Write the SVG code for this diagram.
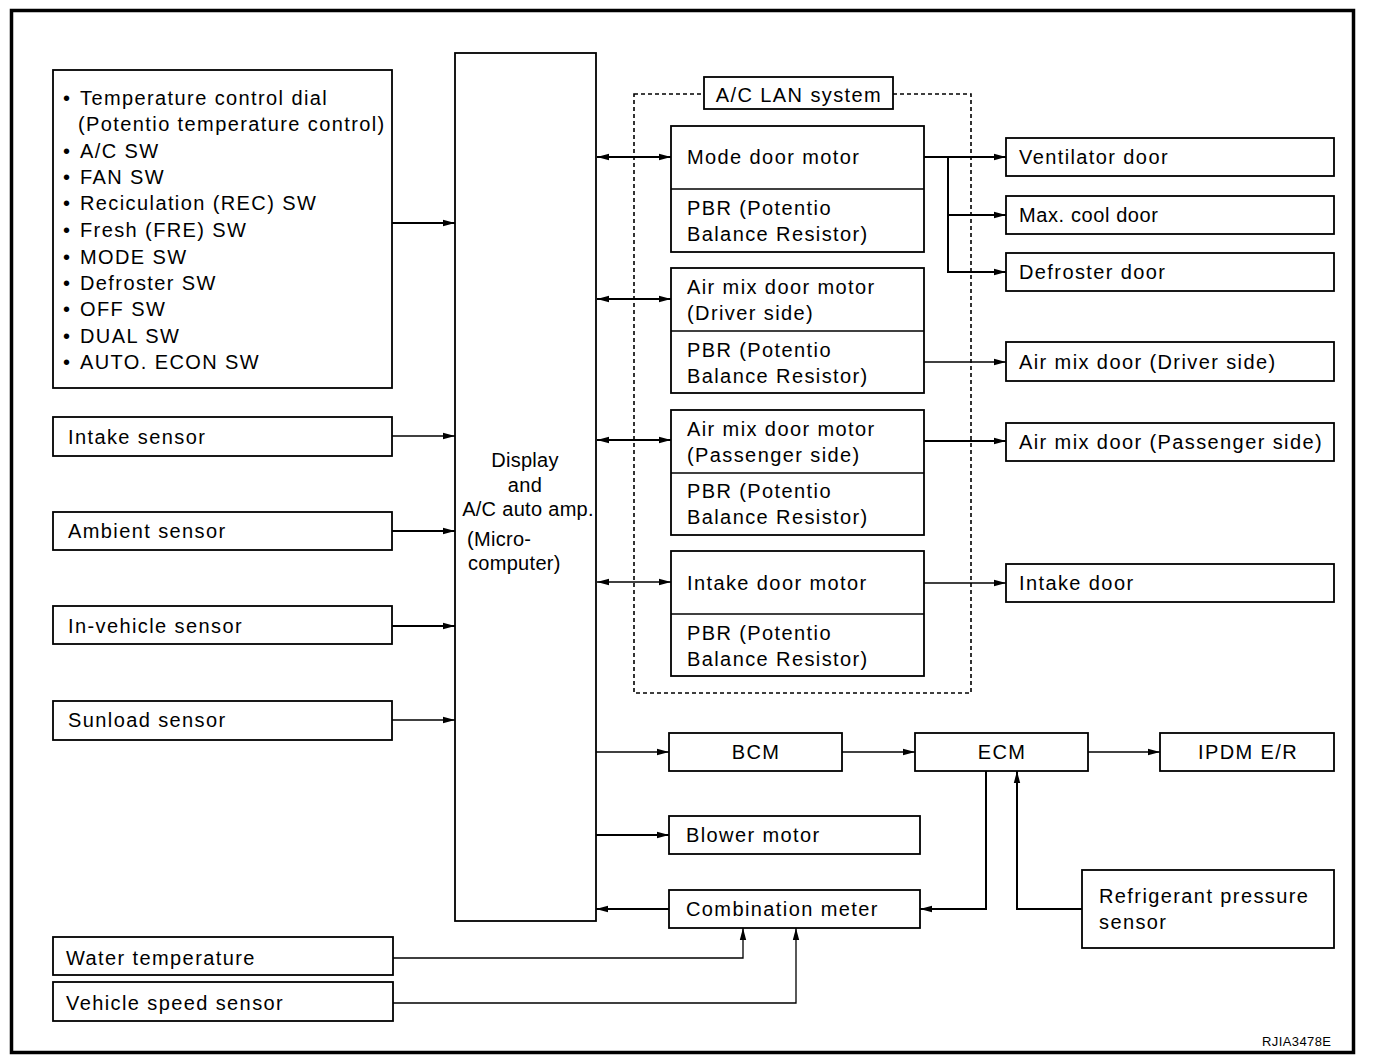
<svg xmlns="http://www.w3.org/2000/svg" width="1392" height="1062" viewBox="0 0 1392 1062">
<style>
text{font-family:"Liberation Sans",Arial,sans-serif;font-size:20px;fill:#000;letter-spacing:1.4px}
.amp{letter-spacing:0.3px}
.box{fill:#fff;stroke:#000;stroke-width:1.8}
.div{stroke:#000;stroke-width:1.3}
.ln{fill:none;stroke:#000;stroke-width:1.3}
.lnb{fill:none;stroke:#000;stroke-width:2}
.mid{text-anchor:middle}
</style>
<defs>
<marker id="ah" viewBox="0 0 12 8" refX="12" refY="4" markerWidth="12" markerHeight="8" markerUnits="userSpaceOnUse" orient="auto-start-reverse">
<path d="M0,0.8 L12,4 L0,7.2 z" fill="#000"/>
</marker>
</defs>
<rect x="0" y="0" width="1392" height="1062" fill="#fff"/>
<rect x="11.5" y="10.5" width="1342" height="1042" fill="none" stroke="#000" stroke-width="3.5"/>

<g id="switches">
<rect class="box" x="53" y="70" width="339" height="318"/>
<text x="63" y="105">•</text><text x="80" y="105">Temperature control dial</text>
<text x="78" y="131">(Potentio temperature control)</text>
<text x="63" y="158">•</text><text x="80" y="158">A/C SW</text>
<text x="63" y="184">•</text><text x="80" y="184">FAN SW</text>
<text x="63" y="210">•</text><text x="80" y="210">Reciculation (REC) SW</text>
<text x="63" y="237">•</text><text x="80" y="237">Fresh (FRE) SW</text>
<text x="63" y="264">•</text><text x="80" y="264">MODE SW</text>
<text x="63" y="290">•</text><text x="80" y="290">Defroster SW</text>
<text x="63" y="316">•</text><text x="80" y="316">OFF SW</text>
<text x="63" y="343">•</text><text x="80" y="343">DUAL SW</text>
<text x="63" y="369">•</text><text x="80" y="369">AUTO. ECON SW</text>
</g>

<g id="intake-sensor"><rect class="box" x="53" y="417" width="339" height="39"/><text x="68" y="444">Intake sensor</text></g>
<g id="ambient-sensor"><rect class="box" x="53" y="512" width="339" height="38"/><text x="68" y="538">Ambient sensor</text></g>
<g id="in-vehicle-sensor"><rect class="box" x="53" y="606" width="339" height="38"/><text x="68" y="633">In-vehicle sensor</text></g>
<g id="sunload-sensor"><rect class="box" x="53" y="701" width="339" height="39"/><text x="68" y="727">Sunload sensor</text></g>
<g id="water-temperature"><rect class="box" x="53" y="937" width="340" height="38"/><text x="66" y="965">Water temperature</text></g>
<g id="vehicle-speed-sensor"><rect class="box" x="53" y="982" width="340" height="39"/><text x="66" y="1010">Vehicle speed sensor</text></g>

<g id="amp">
<rect class="box" x="455" y="53" width="141" height="868"/>
<text class="mid amp" x="525" y="467">Display</text>
<text class="mid amp" x="525" y="492">and</text>
<text class="mid amp" x="528" y="516">A/C auto amp.</text>
<text class="amp" x="467" y="546">(Micro-</text>
<text class="amp" x="468" y="570">computer)</text>
</g>

<g id="ac-lan-system">
<rect x="634" y="94" width="337" height="599" fill="none" stroke="#000" stroke-width="1.6" stroke-dasharray="4,3"/>
<rect class="box" x="704" y="77" width="189" height="32"/>
<text class="mid" x="799" y="102">A/C LAN system</text>
</g>

<g id="mode-door-motor">
<rect class="box" x="671" y="126" width="253" height="126"/>
<line class="div" x1="671" y1="189" x2="924" y2="189"/>
<text x="687" y="164">Mode door motor</text>
<text x="687" y="215">PBR (Potentio</text>
<text x="687" y="241">Balance Resistor)</text>
</g>
<g id="air-mix-driver-motor">
<rect class="box" x="671" y="268" width="253" height="125"/>
<line class="div" x1="671" y1="331" x2="924" y2="331"/>
<text x="687" y="294">Air mix door motor</text>
<text x="687" y="320">(Driver side)</text>
<text x="687" y="357">PBR (Potentio</text>
<text x="687" y="383">Balance Resistor)</text>
</g>
<g id="air-mix-passenger-motor">
<rect class="box" x="671" y="410" width="253" height="125"/>
<line class="div" x1="671" y1="473" x2="924" y2="473"/>
<text x="687" y="436">Air mix door motor</text>
<text x="687" y="462">(Passenger side)</text>
<text x="687" y="498">PBR (Potentio</text>
<text x="687" y="524">Balance Resistor)</text>
</g>
<g id="intake-door-motor">
<rect class="box" x="671" y="551" width="253" height="125"/>
<line class="div" x1="671" y1="614" x2="924" y2="614"/>
<text x="687" y="590">Intake door motor</text>
<text x="687" y="640">PBR (Potentio</text>
<text x="687" y="666">Balance Resistor)</text>
</g>

<g id="ventilator-door"><rect class="box" x="1006" y="138" width="328" height="38"/><text x="1019" y="164">Ventilator door</text></g>
<g id="max-cool-door"><rect class="box" x="1006" y="196" width="328" height="38"/><text x="1019" y="222" style="letter-spacing:0.6px">Max. cool door</text></g>
<g id="defroster-door"><rect class="box" x="1006" y="253" width="328" height="38"/><text x="1019" y="279">Defroster door</text></g>
<g id="air-mix-door-driver"><rect class="box" x="1006" y="342" width="328" height="39"/><text x="1019" y="369">Air mix door (Driver side)</text></g>
<g id="air-mix-door-passenger"><rect class="box" x="1006" y="423" width="328" height="38"/><text x="1019" y="449">Air mix door (Passenger side)</text></g>
<g id="intake-door"><rect class="box" x="1006" y="564" width="328" height="38"/><text x="1019" y="590">Intake door</text></g>

<g id="bcm"><rect class="box" x="669" y="733" width="173" height="38"/><text class="mid" x="756" y="759">BCM</text></g>
<g id="ecm"><rect class="box" x="915" y="733" width="173" height="38"/><text class="mid" x="1002" y="759">ECM</text></g>
<g id="ipdm"><rect class="box" x="1160" y="733" width="174" height="38"/><text class="mid" x="1248" y="759">IPDM E/R</text></g>
<g id="blower-motor"><rect class="box" x="669" y="816" width="251" height="38"/><text x="686" y="842">Blower motor</text></g>
<g id="combination-meter"><rect class="box" x="669" y="890" width="251" height="38"/><text x="686" y="916">Combination meter</text></g>
<g id="refrigerant-pressure-sensor"><rect class="box" x="1082" y="870" width="252" height="78"/><text x="1099" y="903">Refrigerant pressure</text><text x="1099" y="929">sensor</text></g>

<g id="connectors">
<line class="lnb" x1="392" y1="223" x2="455" y2="223" marker-end="url(#ah)"/>
<line class="ln" x1="392" y1="436" x2="455" y2="436" marker-end="url(#ah)"/>
<line class="lnb" x1="392" y1="531" x2="455" y2="531" marker-end="url(#ah)"/>
<line class="lnb" x1="392" y1="626" x2="455" y2="626" marker-end="url(#ah)"/>
<line class="ln" x1="392" y1="720" x2="455" y2="720" marker-end="url(#ah)"/>

<line class="lnb" x1="597" y1="157" x2="671" y2="157" marker-start="url(#ah)" marker-end="url(#ah)"/>
<line class="lnb" x1="597" y1="299" x2="671" y2="299" marker-start="url(#ah)" marker-end="url(#ah)"/>
<line class="lnb" x1="597" y1="440" x2="671" y2="440" marker-start="url(#ah)" marker-end="url(#ah)"/>
<line class="ln" x1="597" y1="582" x2="671" y2="582" marker-start="url(#ah)" marker-end="url(#ah)"/>

<line class="lnb" x1="924" y1="157" x2="1006" y2="157" marker-end="url(#ah)"/>
<polyline class="lnb" points="948,157 948,215 1006,215" marker-end="url(#ah)"/>
<polyline class="lnb" points="948,215 948,272 1006,272" marker-end="url(#ah)"/>
<line class="ln" x1="924" y1="362" x2="1006" y2="362" marker-end="url(#ah)"/>
<line class="lnb" x1="924" y1="441" x2="1006" y2="441" marker-end="url(#ah)"/>
<line class="ln" x1="924" y1="583" x2="1006" y2="583" marker-end="url(#ah)"/>

<line class="ln" x1="596" y1="752" x2="669" y2="752" marker-end="url(#ah)"/>
<line class="ln" x1="842" y1="752" x2="915" y2="752" marker-end="url(#ah)"/>
<line class="ln" x1="1088" y1="752" x2="1160" y2="752" marker-end="url(#ah)"/>
<line class="lnb" x1="596" y1="835" x2="669" y2="835" marker-end="url(#ah)"/>
<line class="lnb" x1="669" y1="909" x2="596" y2="909" marker-end="url(#ah)"/>
<polyline class="lnb" points="986,771 986,909 920,909" marker-end="url(#ah)"/>
<polyline class="lnb" points="1082,909 1017,909 1017,771" marker-end="url(#ah)"/>
<polyline class="ln" points="393,958 743,958 743,928" marker-end="url(#ah)"/>
<polyline class="ln" points="393,1003 796,1003 796,928" marker-end="url(#ah)"/>
</g>

<text x="1262" y="1046" style="font-size:13px;letter-spacing:0.4px">RJIA3478E</text>
</svg>
